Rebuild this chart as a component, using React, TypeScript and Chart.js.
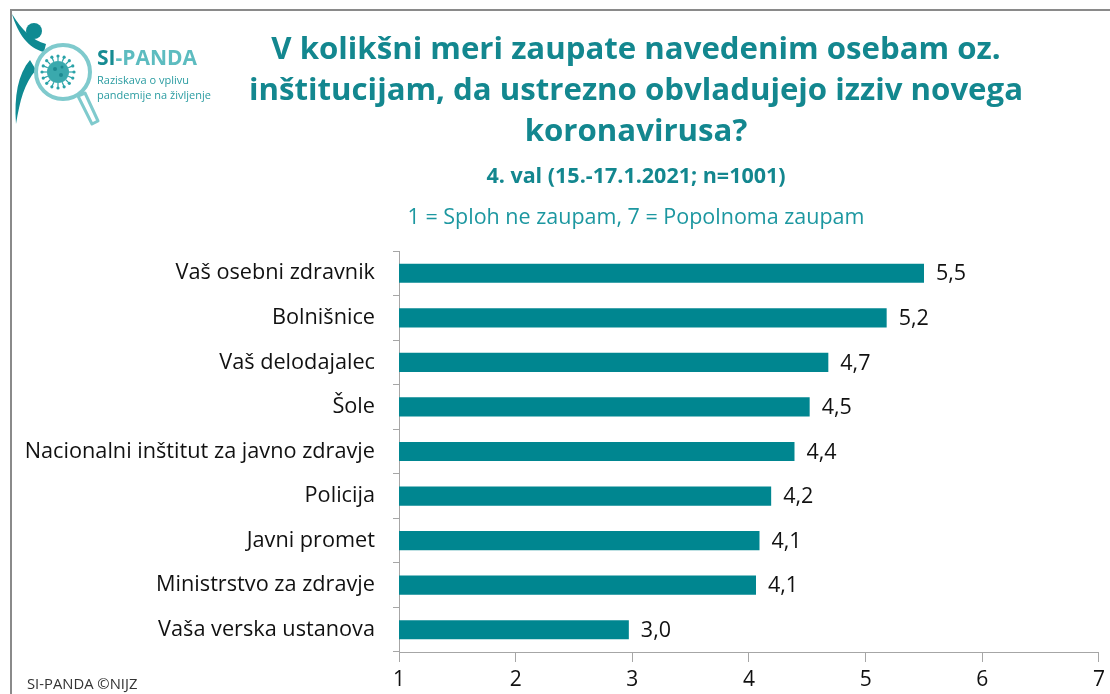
import React, { useEffect, useRef } from "react";
import { Chart, registerables } from "chart.js";

Chart.register(...registerables);

const categories = [
  "Vaš osebni zdravnik",
  "Bolnišnice",
  "Vaš delodajalec",
  "Šole",
  "Nacionalni inštitut za javno zdravje",
  "Policija",
  "Javni promet",
  "Ministrstvo za zdravje",
  "Vaša verska ustanova",
];
const values = [5.5, 5.18, 4.68, 4.52, 4.39, 4.19, 4.09, 4.06, 2.97];
const xTicks = [1, 2, 3, 4, 5, 6, 7];

const titleLines = [
  "V kolikšni meri zaupate navedenim osebam oz.",
  "inštitucijam, da ustrezno obvladujejo izziv novega",
  "koronavirusa?",
];
const subtitle = "4. val (15.-17.1.2021; n=1001)";
const scaleNote = "1 = Sploh ne zaupam, 7 = Popolnoma zaupam";
const footer = "SI-PANDA ©NIJZ";

const FONT = "'Open Sans', Lato, sans-serif";
const BAR = "#008690";
const TEAL = "#13878f";

const valueLabels = {
  id: "valueLabels",
  afterDatasetsDraw(chart: any) {
    const ctx = chart.ctx;
    const meta = chart.getDatasetMeta(0);
    ctx.save();
    ctx.font = `21.5px ${FONT}`;
    ctx.fillStyle = "#111";
    ctx.textAlign = "left";
    ctx.textBaseline = "middle";
    meta.data.forEach((el: any, i: number) => {
      const v = chart.data.datasets[0].data[i] as number;
      ctx.fillText(v.toFixed(1).replace(".", ","), el.x + 12, el.y + 1);
    });
    ctx.restore();
  },
};

function Logo() {
  const spikes = [];
  for (let i = 0; i < 16; i++) {
    const a = (i / 16) * Math.PI * 2;
    const x1 = 58 + Math.cos(a) * 11;
    const y1 = 72 + Math.sin(a) * 11;
    const x2 = 58 + Math.cos(a) * 16;
    const y2 = 72 + Math.sin(a) * 16;
    spikes.push(
      <g key={i}>
        <line x1={x1} y1={y1} x2={x2} y2={y2} stroke="#2aa3a8" strokeWidth={1.2} />
        <circle cx={x2} cy={y2} r={1.6} fill="#2aa3a8" />
      </g>
    );
  }
  return (
    <svg
      width={240}
      height={140}
      style={{ position: "absolute", left: 0, top: 0 }}
    >
      <path d="M12,14 C18,34 28,48 44,52 L46,44 C32,40 22,30 12,14 Z" fill="#0f8a92" />
      <circle cx={34} cy={31} r={8} fill="#0f8a92" />
      <path d="M30,60 C18,74 14,96 16,124 C20,100 24,84 36,70 Z" fill="#0f8a92" />
      <circle cx={63} cy={72} r={27} fill="none" stroke="#7fcacd" strokeWidth={4} />
      <path d="M78,96 L92,124 L98,121 L85,93 Z" fill="none" stroke="#7fcacd" strokeWidth={3} strokeLinejoin="round" />
      {spikes}
      <circle cx={58} cy={72} r={11} fill="#3aa9ad" />
      <circle cx={55} cy={69} r={2} fill="#1d8a90" />
      <circle cx={61} cy={75} r={2} fill="#1d8a90" />
      <circle cx={62} cy={67} r={1.5} fill="#1d8a90" />
      <text x={97} y={65} fontFamily="'Open Sans', sans-serif" fontWeight="bold" fontSize={21}>
        <tspan fill="#178c93">SI</tspan>
        <tspan fill="#5dbcc0">-PANDA</tspan>
      </text>
      <text x={97} y={84} fontFamily="'Open Sans', sans-serif" fontSize={11} fill="#2a9ca1">
        Raziskava o vplivu
      </text>
      <text x={97} y={99} fontFamily="'Open Sans', sans-serif" fontSize={11} fill="#2a9ca1">
        pandemije na življenje
      </text>
    </svg>
  );
}

export default function App() {
  const canvasRef = useRef<HTMLCanvasElement | null>(null);

  useEffect(() => {
    document.body.style.margin = "0";
    const canvas = canvasRef.current;
    if (!canvas) return;
    const chart = new Chart(canvas, {
      type: "bar",
      data: {
        labels: categories,
        datasets: [
          {
            data: values,
            backgroundColor: BAR,
            borderWidth: 0,
            barPercentage: 0.86,
            categoryPercentage: 0.5,
          },
        ],
      },
      options: {
        indexAxis: "y",
        animation: false,
        responsive: false,
        maintainAspectRatio: false,
        layout: { padding: { top: 251, right: 11, left: 0, bottom: 0 } },
        plugins: {
          legend: { display: false },
          tooltip: { enabled: false },
          title: { display: false },
        },
        scales: {
          x: {
            type: "linear",
            min: xTicks[0],
            max: xTicks[xTicks.length - 1],
            afterBuildTicks: (axis: any) => {
              axis.ticks = xTicks.map((v) => ({ value: v }));
            },
            afterFit: (axis: any) => {
              axis.height = 42;
            },
            grid: {
              drawOnChartArea: false,
              drawTicks: true,
              tickLength: 10,
              color: "#a6a6a6",
            },
            border: { color: "#a6a6a6", width: 1 },
            ticks: {
              color: "#111",
              font: { family: FONT, size: 21 },
              padding: 5,
            },
          },
          y: {
            type: "category",
            afterFit: (axis: any) => {
              axis.width = 399;
            },
            grid: {
              drawOnChartArea: false,
              offset: true,
              tickLength: 6,
              color: "#a6a6a6",
            },
            border: { color: "#a6a6a6", width: 1 },
            ticks: {
              color: "#111",
              font: { family: FONT, size: 21.7 },
              padding: 18,
            },
          },
        },
      },
      plugins: [valueLabels],
    } as any);
    return () => chart.destroy();
  }, []);

  return (
    <div style={{ position: "relative", width: 1110, height: 694, background: "#fff", overflow: "hidden" }}>
      <canvas ref={canvasRef} width={1110} height={694} style={{ position: "absolute", left: 0, top: 0 }} />
      <div style={{ position: "absolute", left: 11, top: 9, width: 1099, height: 2, background: "#8a8a8a" }} />
      <div style={{ position: "absolute", left: 10, top: 9, width: 2, height: 685, background: "#8a8a8a" }} />
      <Logo />
      <div
        style={{
          position: "absolute",
          left: 236,
          width: 800,
          top: 27,
          textAlign: "center",
          fontFamily: FONT,
          fontWeight: "bold",
          fontSize: 31.2,
          lineHeight: "41px",
          color: TEAL,
        }}
      >
        {titleLines.map((l, i) => (
          <div key={i}>{l}</div>
        ))}
      </div>
      <div
        style={{
          position: "absolute",
          left: 236,
          width: 800,
          top: 160,
          textAlign: "center",
          fontFamily: FONT,
          fontWeight: "bold",
          fontSize: 21.5,
          lineHeight: "30px",
          color: TEAL,
        }}
      >
        {subtitle}
      </div>
      <div
        style={{
          position: "absolute",
          left: 236,
          width: 800,
          top: 201,
          textAlign: "center",
          fontFamily: FONT,
          fontSize: 21.5,
          lineHeight: "30px",
          color: "#1c97a0",
        }}
      >
        {scaleNote}
      </div>
      <div
        style={{
          position: "absolute",
          left: 27,
          top: 673,
          fontFamily: FONT,
          fontSize: 14.8,
          color: "#333",
        }}
      >
        {footer}
      </div>
    </div>
  );
}
